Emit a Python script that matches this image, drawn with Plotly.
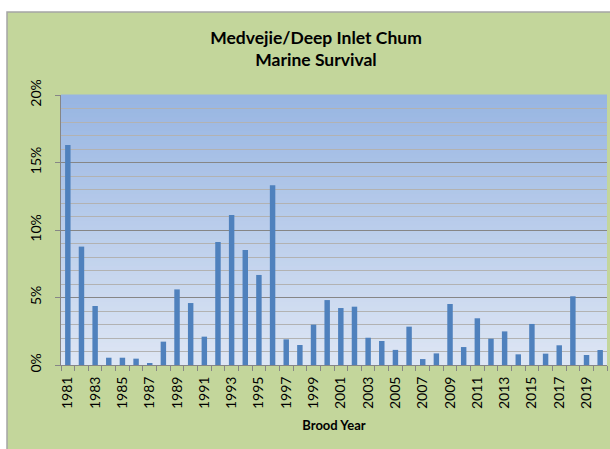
import plotly.graph_objects as go

years = list(range(1981, 2021))
survival_pct = [16.3, 8.77, 4.37, 0.54, 0.54, 0.47, 0.15, 1.73, 5.6, 4.59,
                2.1, 9.11, 11.11, 8.52, 6.67, 13.31, 1.9, 1.48, 2.99, 4.81,
                4.22, 4.32, 2.02, 1.78, 1.12, 2.84, 0.44, 0.86, 4.52, 1.33,
                3.46, 1.95, 2.49, 0.79, 3.04, 0.84, 1.46, 5.09, 0.74, 1.11]
survival = [v / 100 for v in survival_pct]
label_years = [y for y in years if y % 2 == 1]
label_text = [str(y) for y in label_years]

FONT = "Lato"
GREEN = "#c3d69b"
BAR = "#4f81bd"
MAJOR_GRID = "#868686"
MINOR_GRID = "#b2b2b2"

W, H = 610, 449

fig = go.Figure()
fig.add_trace(go.Bar(x=years, y=survival, marker=dict(color=BAR, line=dict(width=0)),
                     width=0.4, hoverinfo="x+y"))

shapes = []
# outer chart frame
shapes.append(dict(type="rect", xref="paper", yref="paper", x0=-0.0989, x1=1.2,
                   y0=-0.6, y1=1.307, fillcolor=GREEN,
                   line=dict(color="#a5a5a5", width=1.5), layer="below"))
# gradient plot background
top = (151, 181, 226)
bot = (222, 230, 244)
n = 60
for i in range(n):
    t = (i + 0.5) / n
    c = tuple(round(bot[k] + (top[k] - bot[k]) * t) for k in range(3))
    shapes.append(dict(type="rect", xref="x domain", yref="y domain",
                       x0=0, x1=1, y0=i / n, y1=(i + 1) / n + 0.002,
                       fillcolor="rgb(%d,%d,%d)" % c, line=dict(width=0), layer="below"))

fig.update_layout(
    width=W, height=H,
    margin=dict(l=61, r=3, t=95, b=84, autoexpand=False),
    paper_bgcolor="white", plot_bgcolor="rgb(200,210,235)",
    shapes=shapes,
    showlegend=False,
    bargap=0.6,
    title=dict(text="<b>Medvejie/Deep Inlet Chum<br>Marine Survival</b>",
               x=316 / W, xref="container", xanchor="center",
               y=1 - 43.5 / H, yref="container", yanchor="top",
               font=dict(family=FONT, size=17.5, color="black"), automargin=False),
    font=dict(family=FONT, color="black"),
)
fig.update_xaxes(
    range=[1980.5, 2020.5], tickmode="array", tickvals=label_years, ticktext=label_text,
    tickangle=-90, tickfont=dict(family=FONT, size=14, color="black"),
    ticks="outside", ticklen=5, tickcolor="rgba(0,0,0,0)",
    showgrid=False, zeroline=False, automargin=False,
    showline=True, linecolor=MAJOR_GRID, linewidth=1,
    minor=dict(tickmode="linear", tick0=1980.5, dtick=1, ticks="outside",
               ticklen=5, tickcolor=MAJOR_GRID, tickwidth=1, showgrid=False),
    title=dict(text="<b>Brood Year</b>", font=dict(family=FONT, size=13, color="black"),
               standoff=12),
)
fig.update_yaxes(
    range=[0, 0.2], tickmode="linear", tick0=0, dtick=0.05, tickformat=".0%",
    tickangle=-90, tickfont=dict(family=FONT, size=14, color="black"),
    ticks="outside", ticklen=5, tickcolor=MAJOR_GRID, automargin=False,
    showgrid=True, gridcolor=MAJOR_GRID, gridwidth=1,
    zeroline=False, showline=True, linecolor=MAJOR_GRID, linewidth=1,
    ticklabelstandoff=8,
    minor=dict(tickmode="linear", tick0=0, dtick=0.01, showgrid=True,
               gridcolor=MINOR_GRID, gridwidth=1),
)
fig.write_html(
    "out.html",
    config={"displayModeBar": False},
    post_script="document.body.style.margin='0';document.body.style.overflow='hidden';",
)
